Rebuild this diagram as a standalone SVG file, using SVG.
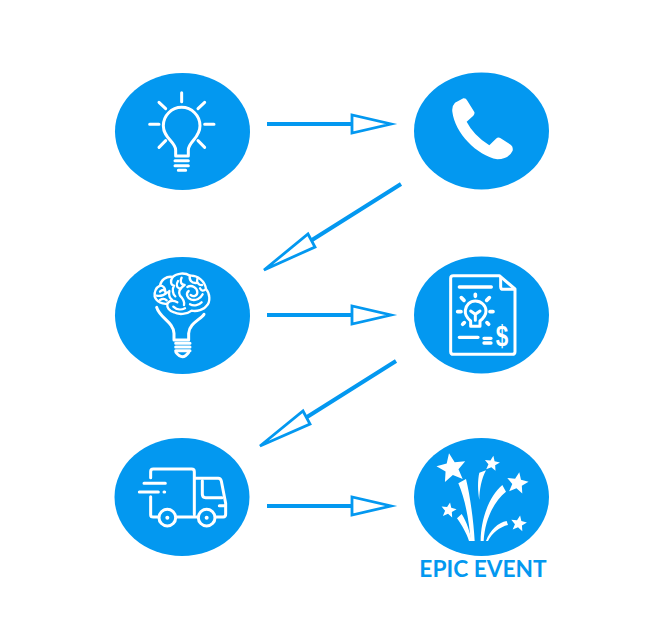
<svg xmlns="http://www.w3.org/2000/svg" width="665" height="630" viewBox="0 0 665 630">
<style>
.disc{fill:#0398f0}
.ln{stroke:#0398f0;stroke-width:4;fill:none}
.hd{stroke:#0398f0;stroke-width:2.8;fill:#fff;stroke-linejoin:miter;stroke-miterlimit:6}
.ic{fill:none;stroke:#fff;stroke-width:9;stroke-linecap:round;stroke-linejoin:round}
.thin{stroke-width:7}
.fl{fill:#fff;stroke:none}
.lbl{font-family:"Lato","Liberation Sans",sans-serif;font-weight:700;font-size:22.700px;fill:#0398f0}
</style>
<defs>
<polygon id="star" points="0,-1 .2645,-.364 .951,-.309 .428,.139 .588,.809 0,.45 -.588,.809 -.428,.139 -.951,-.309 -.2645,-.364"/>
</defs>
<rect width="665" height="630" fill="#fff"/>
<g id="connectors">
<path class="ln" d="M267,124H352M401,184L312,240M267,315H352M396,361L307,417M267,506H352"/>
<polygon class="hd" points="352,115 352,133 391,124"/>
<polygon class="hd" points="308,234 315,247 264,270"/>
<polygon class="hd" points="352,306 352,324 391,315"/>
<polygon class="hd" points="303,411 310,424 260,446"/>
<polygon class="hd" points="352,497 352,515 391,506"/>
</g>
<g id="node-idea">
<ellipse class="disc" cx="182.500" cy="131.500" rx="67.500" ry="58.500"/>
<g transform="translate(110,70) scale(.3333)">
<path class="ic" d="M215,68V95M147,97L167,116M284,97L264,116M119,163H147M284,163H312M147,232L167,212M284,232L264,212"/>
<path class="ic" d="M197,258V240C197,215 160,205 160,167A55,55 0 0 1 270,167C270,205 235,215 235,240V258Z"/>
<path class="ic" d="M195,272H235M195,287H235M205,301H227"/>
</g>
</g>
<g id="node-call">
<ellipse class="disc" cx="481.500" cy="131" rx="67.500" ry="58.500"/>
<g transform="translate(410,70) scale(.3333)">
<path class="fl" d="M135,98L160,85Q168,84 172,92L193,126Q195,132 190,137L170,155Q190,195 238,226L258,206Q265,200 272,205L303,225Q310,230 308,242Q295,268 262,268C200,255 135,190 127,125Q125,108 135,98Z"/>
</g>
</g>
<g id="node-brain">
<ellipse class="disc" cx="182.500" cy="315.500" rx="67.500" ry="58.500"/>
<g transform="translate(110,255) scale(.3333)">
<path class="ic thin" d="M134,125C133,112 138,98 150,92C152,75 170,62 188,66C200,54 225,52 240,62C262,60 285,78 288,102C300,115 302,140 290,152C282,165 260,170 245,167C232,178 205,180 192,172C178,168 170,158 172,146C158,148 140,142 134,125Z"/>
<path class="ic thin" d="M150,92C160,92 168,100 165,110M140,122C152,125 165,118 172,112M188,66C180,78 182,90 192,92C186,102 188,118 196,124M172,146C180,135 192,136 202,142M215,68C208,80 214,90 224,90C212,98 204,110 210,122C218,130 224,140 222,150M240,62C236,75 245,85 258,84M232,96C245,88 262,98 262,112C262,124 250,126 242,120M236,108C226,116 232,130 244,134C258,138 272,130 278,118M288,102C280,110 274,108 270,100M190,155C200,165 215,165 225,160M240,148C252,155 268,150 275,142M150,110C156,104 162,104 166,108M178,108C176,120 180,130 186,134M204,78C198,88 200,98 208,100M262,72C258,82 268,92 276,90M150,135C158,130 166,132 170,136"/>
<path class="ic" d="M140,157C150,190 190,200 192,235V255H236V235C238,205 270,195 282,178"/>
<path class="ic" d="M197,265H240M197,276H240M197,287H240"/>
<path class="ic" d="M198,292Q218,318 236,292"/>
</g>
</g>
<g id="node-plan">
<ellipse class="disc" cx="481.500" cy="315" rx="67.500" ry="58.500"/>
<g transform="translate(410,255) scale(.3333)">
<path class="ic" d="M268,62H130Q122,62 122,70V290Q122,298 130,298H307Q315,298 315,290V102Z"/>
<path class="ic" d="M272,68V95Q272,103 280,103H312"/>
<path class="ic" style="stroke-width:10" d="M148,96H244M148,247H204M222,250H243M222,264H243"/>
<path class="ic" style="stroke-width:11" d="M196,118V124M154,128L162,136M238,128L230,136M143,170H153M240,170H249M158,208L163,203M236,208L231,203"/>
<path class="ic" d="M182,214V198C172,190 164,180 166,166C168,150 180,138 196,138C214,138 228,152 228,168C228,180 220,190 210,198V214Z"/>
<path class="ic" d="M182,168L196,178L210,168M196,178V196"/>
</g>
<text transform="translate(502,346) scale(.75,1)" text-anchor="middle" style="font-family:'Liberation Sans',sans-serif;font-weight:700;font-size:30px;fill:#fff">$</text>
</g>
<g id="node-delivery">
<ellipse class="disc" cx="182" cy="497" rx="67.500" ry="59"/>
<g transform="translate(110,435) scale(.3333)">
<path class="ic" d="M122,128V110Q122,102 130,102H245Q253,102 253,110V238M122,185V240Q122,246 130,246H145M200,246H264"/>
<path class="ic" d="M255,130H325Q332,130 334,138L347,205V238Q347,246 340,246H318"/>
<path class="ic" d="M277,137V178Q277,188 287,188H336M328,212H345"/>
<circle class="ic" cx="172" cy="248" r="25"/>
<circle class="ic" cx="290" cy="248" r="25"/>
<circle class="fl" cx="172" cy="248" r="6"/>
<circle class="fl" cx="290" cy="248" r="6"/>
<path class="ic" d="M102,145H166M88,171H145M162,171H164"/>
</g>
</g>
<g id="node-event">
<ellipse class="disc" cx="481.500" cy="497" rx="67.500" ry="59"/>
<g transform="translate(410,435) scale(.3333)">
<use class="fl" href="#star" transform="translate(125,100) rotate(-10) scale(46)"/>
<use class="fl" href="#star" transform="translate(246,86) rotate(10) scale(24)"/>
<use class="fl" href="#star" transform="translate(322,145) rotate(10) scale(34)"/>
<use class="fl" href="#star" transform="translate(116,226) rotate(10) scale(24)"/>
<use class="fl" href="#star" transform="translate(326,266) rotate(10) scale(25)"/>
<path class="fl" d="M145,145L168,132C180,180 191,260 194,318H182C178,260 165,190 145,145Z"/>
<path class="fl" d="M208,113L228,106C215,130 208,165 208,195C203,165 203,135 208,113Z"/>
<path class="fl" d="M212,318C212,250 240,180 277,150L288,170C255,195 225,250 221,318Z"/>
<path class="fl" d="M141,250L155,237C170,260 180,290 185,318H177C170,295 155,270 141,250Z"/>
<path class="fl" d="M228,318C240,285 265,262 290,258L294,270C270,275 245,295 234,318Z"/>
</g>
<text class="lbl" x="483" y="577" text-anchor="middle">EPIC EVENT</text>
</g>
</svg>
